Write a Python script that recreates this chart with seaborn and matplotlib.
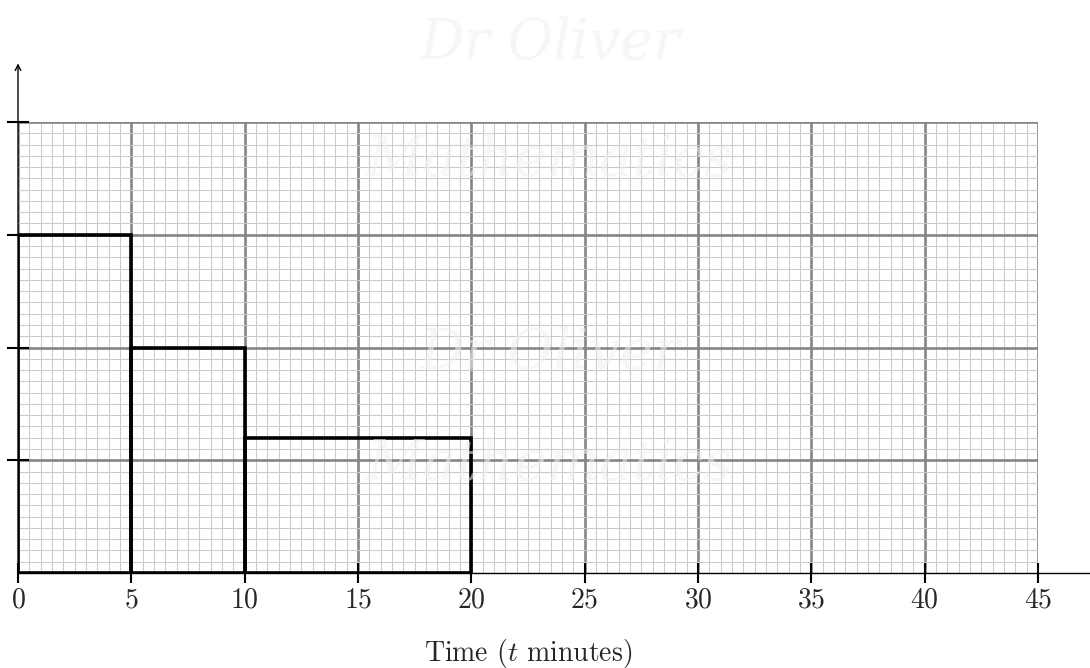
import numpy as np
import matplotlib
matplotlib.use("Agg")
import matplotlib.pyplot as plt
from matplotlib.ticker import MultipleLocator
import seaborn as sns

# class midpoints, frequencies and class boundaries
midpoints = [2.5, 7.5, 15]
frequencies = [15, 10, 12]
class_edges = [0, 5, 10, 20]
x_ticks = [0, 5, 10, 15, 20, 25, 30, 35, 40, 45]
y_ticks = [1, 2, 3, 4]

sns.set_style("white")
plt.rcParams['font.family'] = 'serif'
plt.rcParams['font.serif'] = ['cmr10', 'DejaVu Serif']
plt.rcParams['mathtext.fontset'] = 'cm'
plt.rcParams['axes.formatter.use_mathtext'] = True

fig = plt.figure(figsize=(10.9, 6.68), dpi=100)
ax = fig.add_axes([18 / 1090, 95 / 668, 1020 / 1090, 451 / 668])

# graph paper
ax.xaxis.set_minor_locator(MultipleLocator(0.5))
ax.yaxis.set_minor_locator(MultipleLocator(0.1))
ax.grid(which='minor', color='#cacaca', linewidth=0.75, zorder=0)
ax.grid(which='major', color='#858585', linewidth=1.9, zorder=1)
ax.set_axisbelow(True)

# histogram: frequency density = frequency / class width
sns.histplot(x=midpoints, weights=frequencies, bins=class_edges, stat='frequency',
             fill=False, color='black', linewidth=2.6, ax=ax, zorder=3)

ax.set_xlim(0, 45)
ax.set_ylim(0, 4)
ax.set_xticks(x_ticks)
ax.set_xticklabels([f"${t}$" for t in x_ticks], fontsize=20)
ax.set_yticks(y_ticks)
ax.set_yticklabels([])
ax.tick_params(axis='x', which='major', bottom=True, direction='inout', length=14,
               width=1.5, color='black', pad=3)
ax.tick_params(axis='y', which='major', left=True, direction='inout', length=16,
               width=1.5, color='black')
ax.tick_params(which='minor', length=0)
for s in ax.spines.values():
    s.set_visible(False)

# axes lines with arrow on y
ax.plot([0, 47.5], [0, 0], color='black', linewidth=1.0, clip_on=False, zorder=4)
ax.annotate('', xy=(0, 4.52), xytext=(0, 0), annotation_clip=False,
            arrowprops=dict(arrowstyle='->', color='black', linewidth=1.0,
                            shrinkA=0, shrinkB=0), zorder=4)

ax.set_ylabel('')
ax.set_xlabel('Time ($t$ minutes)', fontsize=20, labelpad=17)

# faint watermark
for (xx, yy, txt) in [(0.505, 0.935, 'Dr Oliver'), (0.505, 0.76, 'Mathematics'),
                      (0.505, 0.47, 'Dr Oliver'), (0.505, 0.305, 'Mathematics')]:
    fig.text(xx, yy, txt, ha='center', va='center', fontsize=40, style='italic',
             family='DejaVu Serif', color='#f0f0f0', alpha=0.55, zorder=10)

plt.savefig('out.png', dpi=100)
